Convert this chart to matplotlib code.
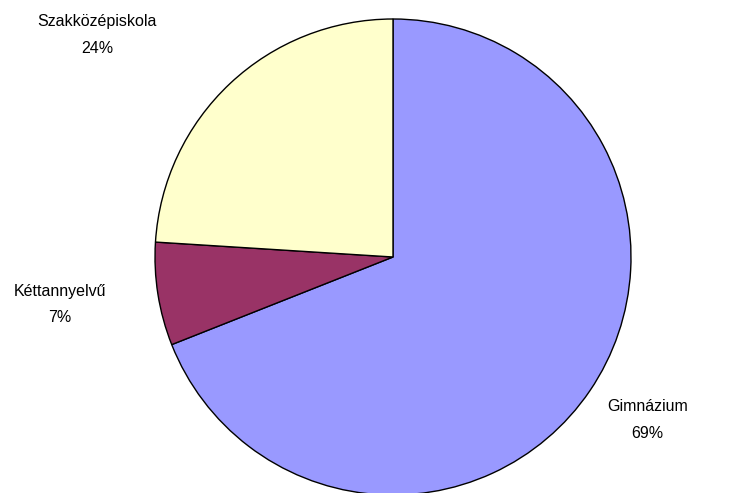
import matplotlib
matplotlib.use("Agg")
import matplotlib.pyplot as plt

# school types and their share
labels = ["Gimnázium", "Kéttannyelvű", "Szakközépiskola"]
values = [69, 7, 24]
colors = ["#9999FF", "#993366", "#FFFFCC"]

plt.rcParams['font.family'] = ['Liberation Sans', 'DejaVu Sans']

fig = plt.figure(figsize=(7.31, 4.93), dpi=100)
W, H = 731, 493
cx, cy, r = 393, 257, 238
ax = fig.add_axes([(cx - r) / W, (H - cy - r) / H, 2 * r / W, 2 * r / H])

wedges, _ = ax.pie(values, colors=colors, startangle=90, counterclock=False,
                   radius=1.0, wedgeprops=dict(edgecolor="black", linewidth=1.0))
ax.set_xlim(-1, 1)
ax.set_ylim(-1, 1)
ax.set_aspect("auto")
ax.axis("off")

# label positions relative to the pie (in radius units)
label_pos = [(1.07, -0.685), (-1.40, -0.20), (-1.244, 0.933)]
total = sum(values)
for lab, v, (x, y) in zip(labels, values, label_pos):
    ax.text(x, y, "%s\n%d%%" % (lab, round(100 * v / total)), ha="center", va="center",
            fontsize=11.5, linespacing=1.95, clip_on=False)

fig.savefig("out.png", dpi=100)
